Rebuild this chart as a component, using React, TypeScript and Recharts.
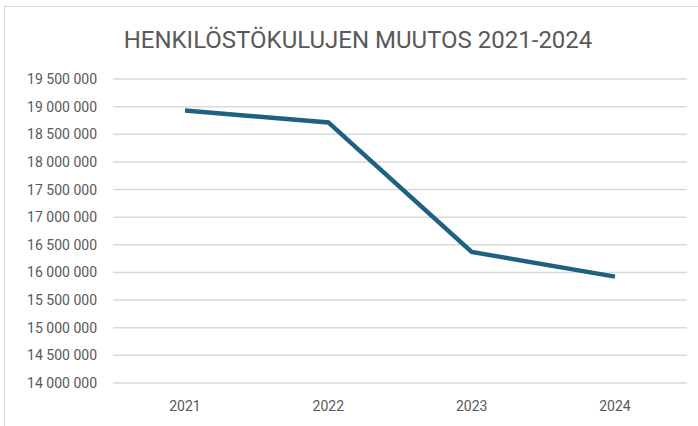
import React from 'react';
import { LineChart, Line, XAxis, YAxis, CartesianGrid } from 'recharts';

const years = ['2021', '2022', '2023', '2024'];
const costs = [18930000, 18715000, 16370000, 15925000];
const yTicks = [14000000, 14500000, 15000000, 15500000, 16000000, 16500000, 17000000, 17500000, 18000000, 18500000, 19000000, 19500000];

const data = years.map((y, i) => ({ year: y, value: costs[i] }));

const fmt = (v: number) => v.toString().replace(/\B(?=(\d{3})+(?!\d))/g, '\u00a0');

const App = () => {
    return (
        <div style={{ position: 'absolute', left: 0, top: 0, width: 698, height: 426, background: '#fff', fontFamily: 'Roboto, sans-serif' }}>
            <div style={{ position: 'absolute', left: 4, top: 6, width: 700, height: 430, border: '1px solid #d9d9d9' }} />
            <div style={{ position: 'absolute', left: 0, top: 26, width: 716, textAlign: 'center', fontSize: 24, color: '#595959' }}>
                HENKILÖSTÖKULUJEN MUUTOS 2021-2024
            </div>
            <div style={{ position: 'absolute', left: 0, top: 0 }}>
                <LineChart width={698} height={426} data={data} margin={{ top: 79, right: 11, bottom: 13, left: 0 }}>
                    <CartesianGrid vertical={false} stroke="#d9d9d9" strokeWidth={1.5} />
                    <XAxis
                        dataKey="year"
                        height={30}
                        axisLine={false}
                        tickLine={false}
                        tickSize={0}
                        tickMargin={18}
                        padding={{ left: 72, right: 72 }}
                        tick={{ fill: '#595959', fontSize: 14 }}
                    />
                    <YAxis
                        width={113}
                        domain={[14000000, 19500000]}
                        ticks={yTicks}
                        tickFormatter={fmt}
                        axisLine={false}
                        tickLine={false}
                        tickSize={0}
                        tickMargin={16}
                        tick={{ fill: '#595959', fontSize: 14 }}
                    />
                    <Line type="linear" dataKey="value" stroke="#1e6180" strokeWidth={4.5} dot={false} isAnimationActive={false} />
                </LineChart>
            </div>
        </div>
    );
};

export default App;
